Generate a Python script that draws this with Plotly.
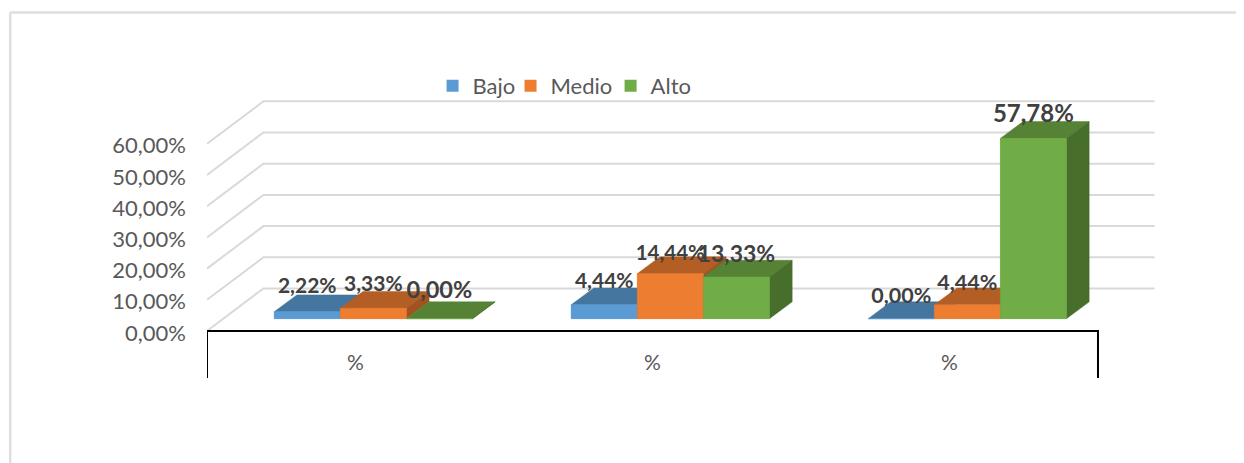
import plotly.graph_objects as go

categories = ["%", "%", "%"]
series_names = ["Bajo", "Medio", "Alto"]
bajo = [2.22, 4.44, 0.00]
medio = [3.33, 14.44, 4.44]
alto = [0.00, 13.33, 57.78]
y_ticks = [0, 10, 20, 30, 40, 50, 60]
y_tick_labels = ["0,00%", "10,00%", "20,00%", "30,00%", "40,00%", "50,00%", "60,00%"]

front_colors = ["#5B9BD5", "#ED7D31", "#70AD47"]
top_colors = ["#44769F", "#B25E25", "#558235"]
side_colors = ["#3A6488", "#A0531F", "#486E2B"]
label_sizes = [[21, 21, 21.5], [21, 20.5, 21.5], [23.5, 23, 24]]
label_gaps = [[7.85, 7.2, 6.9], [7.2, 6.1, 6.6], [8.4, 6.6, 7.2]]
legend_x = [0.2367, 0.3185, 0.4235]

# oblique projection, in axis units (x: categories, y: percent)
WALL_DX = 0.19
WALL_DY = 13.62
BAR_WIDTH = 0.2225
BAR_DX = 0.0765
BAR_DY = 5.4
BAR_SHIFT_X = 0.06
BAR_BASE = 3.95
TICK_NUDGE = 0.6  # labels sit a little under their gridline
GRID = "#D9D9D9"
BORDER = "#DEDEDE"
FONT = "Lato"

fig = go.Figure()


def bar_left(i, s):
    return i + BAR_SHIFT_X + (1 - 3 * BAR_WIDTH) / 2 + s * BAR_WIDTH


def add_line(xs, ys, color, width):
    fig.add_trace(
        go.Scatter(
            x=xs,
            y=ys,
            mode="lines",
            line=dict(color=color, width=width),
            showlegend=False,
            hoverinfo="skip",
        )
    )


def add_face(xs, ys, color):
    fig.add_trace(
        go.Scatter(
            x=xs,
            y=ys,
            mode="lines",
            fill="toself",
            fillcolor=color,
            line=dict(color=color, width=0.5),
            showlegend=False,
            hoverinfo="skip",
        )
    )


# walls
for v in y_ticks:
    add_line([0, WALL_DX, 3 + WALL_DX], [v, v + WALL_DY, v + WALL_DY], GRID, 2)

# front faces, these also give the legend
all_values = [bajo, medio, alto]
for s, values in enumerate(all_values):
    fig.add_trace(
        go.Bar(
            x=[bar_left(i, s) + BAR_WIDTH / 2 for i in range(3)],
            y=values,
            base=BAR_BASE,
            width=BAR_WIDTH,
            name=series_names[s],
            marker=dict(color=front_colors[s], line=dict(width=0)),
            hoverinfo="skip",
            legend="legend" if s == 0 else f"legend{s + 1}",
        )
    )

# faces drawn back to front
for i in range(3):
    for s, values in enumerate(all_values):
        x0 = bar_left(i, s)
        x1 = x0 + BAR_WIDTH
        top = BAR_BASE + values[i]
        add_face(
            [x0, x1, x1 + BAR_DX, x0 + BAR_DX, x0],
            [top, top, top + BAR_DY, top + BAR_DY, top],
            top_colors[s],
        )
        add_face(
            [x1, x1 + BAR_DX, x1 + BAR_DX, x1, x1],
            [BAR_BASE, BAR_BASE + BAR_DY, top + BAR_DY, top, BAR_BASE],
            side_colors[s],
        )
        add_face([x0, x1, x1, x0, x0], [BAR_BASE, BAR_BASE, top, top, BAR_BASE], front_colors[s])

# floor edge and the category bracket
add_line([0, 0, 3, 3], [-15.06, 0, 0, -15.06], "#000000", 2)

# data labels on top of everything
for s, values in enumerate(all_values):
    fig.add_trace(
        go.Scatter(
            x=[bar_left(i, s) + BAR_WIDTH / 2 for i in range(3)],
            y=[BAR_BASE + v + g for v, g in zip(values, label_gaps[s])],
            mode="text",
            text=[f"{v:.2f}%".replace(".", ",") for v in values],
            textposition="middle center",
            textfont=dict(family=FONT, size=label_sizes[s], color="#404040", weight="bold"),
            showlegend=False,
            hoverinfo="skip",
            cliponaxis=False,
        )
    )

legend_base = dict(
    orientation="h",
    xanchor="left",
    y=1.014,
    yanchor="middle",
    bgcolor="rgba(0,0,0,0)",
    font=dict(size=22),
)

fig.update_layout(
    width=1236,  # the page keeps an 8px body margin
    height=455,
    margin=dict(l=199, r=84, t=82, b=85),
    paper_bgcolor="white",
    plot_bgcolor="white",
    barmode="overlay",
    font=dict(family=FONT, size=22, color="#595959"),
    xaxis=dict(
        range=[0, 3.2088],
        tickvals=[0.5, 1.5, 2.5],
        ticktext=categories,
        showgrid=False,
        zeroline=False,
        showline=False,
        ticks="",
        tickfont=dict(size=21),
        anchor="free",
        position=0.1146,
        ticklabelstandoff=3,
    ),
    yaxis=dict(
        range=[-15.06, 77.24],
        tickvals=[v - TICK_NUDGE for v in y_ticks],
        ticktext=y_tick_labels,
        showgrid=False,
        zeroline=False,
        showline=False,
        ticks="",
        ticklabelstandoff=20,
    ),
    legend=dict(legend_base, x=legend_x[0]),
    legend2=dict(legend_base, x=legend_x[1]),
    legend3=dict(legend_base, x=legend_x[2]),
    shapes=[
        # outer chart border, only top and left show in the crop
        dict(type="line", xref="paper", yref="paper", x0=-0.2065, x1=1.1, y0=1.269, y1=1.269,
             line=dict(color=BORDER, width=2.5)),
        dict(type="line", xref="paper", yref="paper", x0=-0.2065, x1=-0.2065, y0=1.269, y1=-0.3,
             line=dict(color=BORDER, width=2.5)),
    ],
)

fig.write_html("out.html")
